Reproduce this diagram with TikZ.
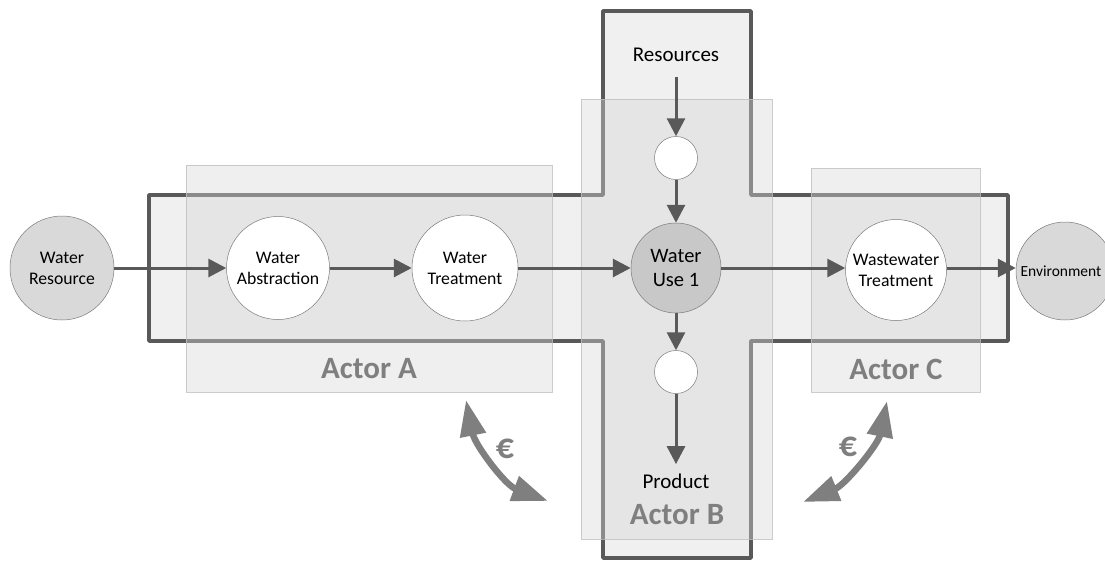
\documentclass[tikz,border=0pt]{standalone}
\usepackage{fontspec}
\setmainfont{Carlito}
\usetikzlibrary{arrows.meta}
\definecolor{outl}{HTML}{595959}
\definecolor{crossfill}{HTML}{F0F0F0}
\definecolor{actfill}{HTML}{D6D6D6}
\definecolor{actline}{HTML}{BFBFBF}
\definecolor{actlabel}{HTML}{7F7F7F}
\definecolor{grayc}{HTML}{D9D9D9}
\definecolor{usec}{HTML}{C8C8C8}
\tikzset{
  crossline/.style={draw=outl, line width=3.5pt, fill=crossfill, line join=round},
  actorbox/.style={draw=actline, line width=0.8pt, fill=actfill, fill opacity=0.4, draw opacity=0.8},
  actorlabel/.style={text=actlabel, font=\fontsize{31}{35}\selectfont\bfseries},
  wcirc/.style={circle, draw=outl!80, line width=0.5pt, fill=white, align=center, inner sep=0pt, font=\fontsize{17.7}{21}\selectfont},
  gcirc/.style={wcirc, fill=grayc},
  plain/.style={align=center, font=\fontsize{21}{25}\selectfont},
  flow/.style={draw=outl, line width=3pt, -{Triangle[length=18pt,width=18pt]}},
  euro/.style={draw=actlabel, line width=6.5pt, {Triangle[length=36pt,width=25pt]}-{Triangle[length=36pt,width=25pt]}},
  eurolabel/.style={text=actlabel, font=\fontsize{36}{40}\selectfont\bfseries}
}
\begin{document}
\begin{tikzpicture}[x=1pt,y=-1pt]
\useasboundingbox (0,0) rectangle (1105,560);
\clip (0,0) rectangle (1105,560);
% cross outline
\draw[crossline] (149,195) -- (603,195) -- (603,11) -- (751,11) -- (751,195) -- (1008,195)
  -- (1008,341) -- (751,341) -- (751,558) -- (603,558) -- (603,341) -- (149,341) -- cycle;
% actor boxes
\draw[actorbox] (186,165) rectangle (552,392);
\draw[actorbox] (581,99) rectangle (772,539);
\draw[actorbox] (811,168) rectangle (980,392);
\node[actorlabel] (la) at (369,369) {Actor A};
\node[actorlabel] (lb) at (677,515) {Actor B};
\node[actorlabel] (lc) at (896,369) {Actor C};
% nodes
\node[gcirc, minimum size=104] (wr) at (62,268) {Water\\Resource};
\node[wcirc, minimum size=103] (wa) at (278,268) {Water\\Abstraction};
\node[wcirc, minimum size=106] (wt) at (465,268) {Water\\Treatment};
\node[gcirc, fill=usec, minimum size=90, font=\fontsize{20.5}{24}\selectfont] (wu) at (676,268) {Water\\Use 1};
\node[wcirc, minimum size=101] (ww) at (896,270) {Wastewater\\Treatment};
\node[gcirc, minimum size=98] (env) at (1065,271) {};
\node[font=\fontsize{15.5}{18}\selectfont] (envt) at (1061,271) {Environment};
\node[wcirc, minimum size=43] (st) at (676,158) {};
\node[wcirc, minimum size=43] (sb) at (676,372) {};
\node[plain] (res) at (676,55) {Resources};
\node[plain] (prod) at (676,481) {Product};
% flows
\draw[flow] (wr) -- (wa);
\draw[flow] (wa) -- (wt);
\draw[flow] (wt) -- (wu);
\draw[flow] (wu.east) -- (ww.west |- wu.east);
\draw[flow] (ww.east |- 0,268) -- (env.west |- 0,268);
\draw[flow, shorten <=12pt] (res) -- (st);
\draw[flow] (st) -- (wu);
\draw[flow] (wu) -- (sb);
\draw[flow, shorten >=6pt] (sb) -- (prod);
% euro arrows
\coordinate (e1a) at (466,400);
\coordinate (e1b) at (548,501);
\coordinate (e2a) at (887,401);
\coordinate (e2b) at (803,502);
\draw[euro] (e1a) .. controls (475,445) and (505,485) .. (e1b);
\draw[euro] (e2a) .. controls (878,445) and (845,485) .. (e2b);
\node[eurolabel] (eu1) at (505,449) {€};
\node[eurolabel] (eu2) at (848,447) {€};
\end{tikzpicture}
\end{document}
